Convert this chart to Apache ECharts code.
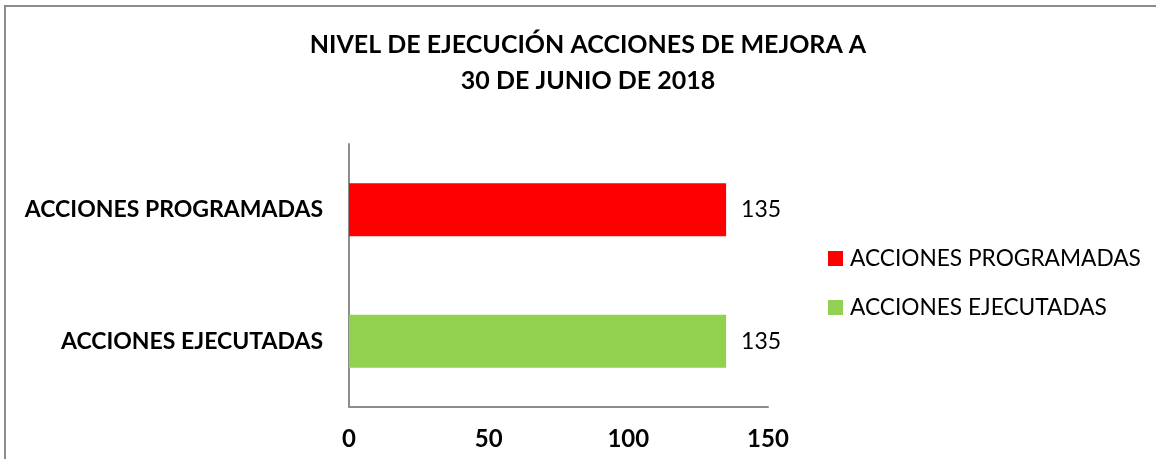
<!DOCTYPE html>
<html>
<head>
<meta charset="utf-8">
<script src="https://cdn.jsdelivr.net/npm/echarts@6/dist/echarts.min.js"></script>
<style>
html,body{margin:0;padding:0;background:#fff;}
#chart{width:1156px;height:459px;}
</style>
</head>
<body>
<div id="chart"></div>
<script>
var titleText = 'NIVEL DE EJECUCIÓN ACCIONES DE MEJORA A\n30 DE JUNIO DE 2018';
var categories = ['ACCIONES EJECUTADAS', 'ACCIONES PROGRAMADAS'];
var programadas = [null, 135];
var ejecutadas = [135, null];
var xTicks = [0, 50, 100, 150];

var FONT = 'Lato, "Open Sans", sans-serif';
var chart = echarts.init(document.getElementById('chart'), null, {renderer: 'canvas'});
chart.setOption({
  animation: false,
  backgroundColor: '#fff',
  graphic: [{
    type: 'rect',
    shape: {x: 5, y: 6, width: 1200, height: 500},
    style: {fill: 'none', stroke: '#8c8c8c', lineWidth: 2},
    silent: true
  }],
  title: {
    text: titleText,
    left: 583,
    textAlign: 'center',
    top: 22,
    textStyle: {fontFamily: FONT, fontWeight: 'bold', fontSize: 25, lineHeight: 36, color: '#000'}
  },
  legend: {
    orient: 'vertical',
    left: 823,
    top: 242,
    itemWidth: 15,
    itemHeight: 15,
    itemGap: 26,
    icon: 'rect',
    textStyle: {fontFamily: FONT, fontSize: 22.7, color: '#000', padding: [0, 0, 0, 2]},
    data: ['ACCIONES PROGRAMADAS', 'ACCIONES EJECUTADAS']
  },
  grid: {left: 349, right: 388, top: 144, bottom: 52, containLabel: false},
  xAxis: {
    type: 'value',
    min: xTicks[0],
    max: xTicks[xTicks.length - 1],
    interval: xTicks[1] - xTicks[0],
    axisLine: {show: true, lineStyle: {color: '#8c8c8c', width: 2}},
    axisTick: {show: false},
    splitLine: {show: false},
    axisLabel: {margin: 20, fontFamily: FONT, fontWeight: 'bold', fontSize: 24, color: '#000'}
  },
  yAxis: {
    type: 'category',
    data: categories,
    axisLine: {show: true, lineStyle: {color: '#8c8c8c', width: 2}},
    axisTick: {show: false},
    axisLabel: {margin: 26, fontFamily: FONT, fontWeight: 'bold', fontSize: 23, color: '#000'}
  },
  series: [{
    name: 'ACCIONES PROGRAMADAS',
    type: 'bar',
    stack: 'a',
    data: programadas,
    barWidth: 53,
    itemStyle: {color: '#ff0000'},
    label: {show: true, position: 'right', distance: 15, fontFamily: FONT, fontSize: 23, color: '#000'}
  }, {
    name: 'ACCIONES EJECUTADAS',
    type: 'bar',
    stack: 'a',
    data: ejecutadas,
    barWidth: 53,
    itemStyle: {color: '#92d050'},
    label: {show: true, position: 'right', distance: 15, fontFamily: FONT, fontSize: 23, color: '#000'}
  }]
});
</script>
</body>
</html>
